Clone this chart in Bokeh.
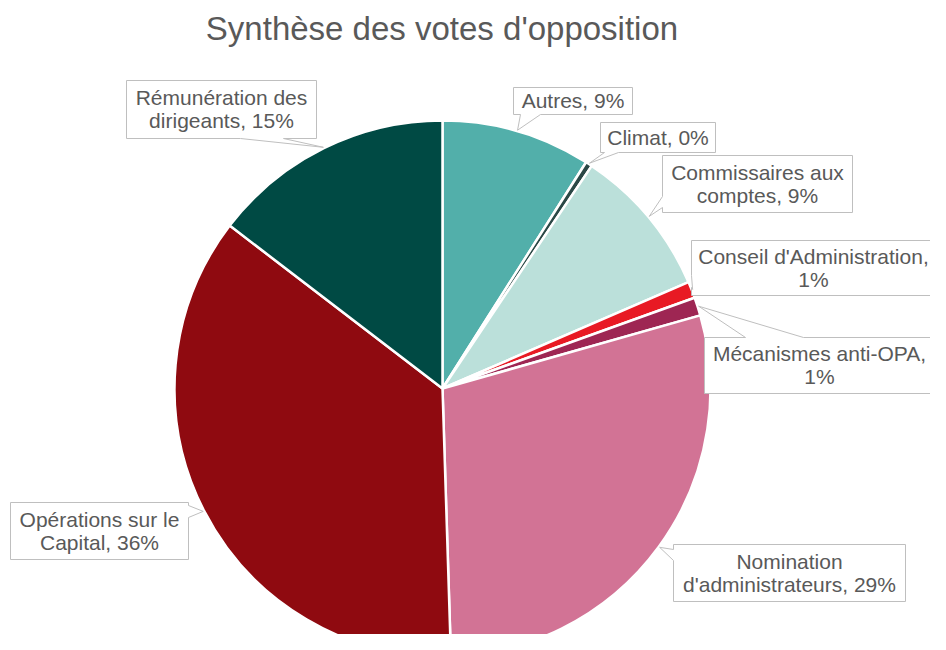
import math
from bokeh.plotting import figure
from bokeh.models import ColumnDataSource, Range1d
from bokeh.core.properties import value
from bokeh.embed import file_html
from bokeh.resources import INLINE

# ---------------- data ----------------
title_text = "Synthèse des votes d'opposition"
categories = [
    "Autres",
    "Climat",
    "Commissaires aux comptes",
    "Conseil d'Administration",
    "Mécanismes anti-OPA",
    "Nomination d'administrateurs",
    "Opérations sur le Capital",
    "Rémunération des dirigeants",
]
shares = [9.0, 0.4, 9.1, 1.0, 1.1, 28.9, 35.9, 14.6]
colors = ["#52AFAA", "#2B4846", "#BBE0DA", "#E81A24", "#9E2653", "#D27395", "#8F0A10", "#004A44"]
break_after = [0, 0, 2, 2, 2, 1, 3, 2]   # words on the first label line (0 = single line)

# ---------------- layout (picture pixel coords) ----------------
W, H = 930, 634
CX, CY, R = 442, 388, 268
boxes = [
    (513, 87, 632, 114),
    (600, 122, 715, 152),
    (662, 155, 852, 212),
    (691, 240, 940, 295),
    (704, 337, 940, 393),
    (673, 544, 905, 601),
    (10, 502, 188, 559),
    (126, 80, 316, 138),
]
text_cx = [None, None, None, 813, 819, None, None, None]
pointers = [
    ("bottom", 520, 540),
    ("bottom", 604, 618),
    ("left", 196, 207),
    ("left", 275, 287),
    ("top", 745, 803),
    ("left", 549, 560),
    ("right", 505, 517),
    ("bottom", 240, 283),
]
TEXT_COLOR = "#595959"
BORDER = "#BFBFBF"
FONT = "Liberation Sans"

p = figure(width=W, height=H, output_backend="svg", toolbar_location=None,
           x_range=Range1d(0, W), y_range=Range1d(-H, 0),
           x_axis_type=None, y_axis_type=None, min_border=0)
p.grid.visible = False
p.outline_line_color = None
p.background_fill_color = "white"

# ---------------- wedges ----------------
total = sum(shares)
starts, ends, mids = [], [], []
acc = 0.0
for v in shares:
    a0 = acc / total * 2 * math.pi
    acc += v
    a1 = acc / total * 2 * math.pi
    starts.append(math.pi / 2 - a0)
    ends.append(math.pi / 2 - a1)
    mids.append((a0 + a1) / 2)

wsrc = ColumnDataSource(dict(start=starts, end=ends, color=colors, cat=categories, share=shares))
p.wedge(x=CX, y=-CY, radius=R, start_angle="start", end_angle="end", direction="clock",
        fill_color="color", line_color="white", line_width=2.5, source=wsrc)

# ---------------- callouts ----------------
def callout(box, ptr, tip):
    l, t, r, b = box
    side, a1, a2 = ptr
    if side == "top":
        pts = [(l, t), (a1, t), tip, (a2, t), (r, t), (r, b), (l, b)]
    elif side == "right":
        pts = [(l, t), (r, t), (r, a1), tip, (r, a2), (r, b), (l, b)]
    elif side == "bottom":
        pts = [(l, t), (r, t), (r, b), (a2, b), tip, (a1, b), (l, b)]
    else:
        pts = [(l, t), (r, t), (r, b), (l, b), (l, a2), tip, (l, a1)]
    return [q[0] for q in pts], [-q[1] for q in pts]

xs, ys = [], []
for box, ptr, m in zip(boxes, pointers, mids):
    tip = (CX + (R + 1) * math.sin(m), CY - (R + 1) * math.cos(m))
    cx_, cy_ = callout(box, ptr, tip)
    xs.append(cx_)
    ys.append(cy_)
p.patches(xs=xs, ys=ys, fill_color="white", line_color=BORDER, line_width=1)

# ---------------- label text ----------------
tx, ty, tt = [], [], []
LINE = 23
for cat, v, k, box, tcx in zip(categories, shares, break_after, boxes, text_cx):
    label = f"{cat}, {round(v)}%"
    words = label.split(" ")
    lines = [label] if k == 0 else [" ".join(words[:k]), " ".join(words[k:])]
    l, t, r, b = box
    cxb = (l + r) / 2 if tcx is None else tcx
    cyb = (t + b) / 2
    n = len(lines)
    for i, ln in enumerate(lines):
        tx.append(cxb)
        ty.append(-(cyb + (i - (n - 1) / 2) * LINE - 0.5))
        tt.append(ln)
p.text(x=tx, y=ty, text=tt, text_font=value(FONT), text_font_size="21px",
       text_color=TEXT_COLOR, text_align="center", text_baseline="alphabetic")

# ---------------- title ----------------
p.text(x=[441.5], y=[-28], text=[title_text], text_font=value(FONT), text_font_size="33px",
       text_color=TEXT_COLOR, text_align="center", text_baseline="alphabetic")

open("out.html", "w").write(file_html(p, INLINE))
